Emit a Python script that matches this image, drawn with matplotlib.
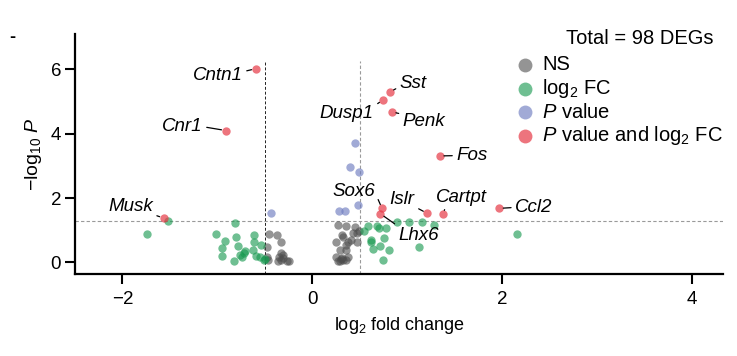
import matplotlib
matplotlib.use("Agg")
import matplotlib.pyplot as plt
from matplotlib.lines import Line2D

plt.rcParams['font.family'] = ['Liberation Sans', 'DejaVu Sans']
plt.rcParams['mathtext.fontset'] = 'custom'
plt.rcParams['mathtext.rm'] = 'Liberation Sans'
plt.rcParams['mathtext.it'] = 'Liberation Sans:italic'
plt.rcParams['mathtext.bf'] = 'Liberation Sans:bold'

# ---------------- data ----------------
ns_x = [-0.45, -0.37, -0.33, -0.48, -0.325, -0.35, -0.31, -0.27, -0.36, -0.31, -0.48, -0.47, -0.24, -0.33,
        0.27, 0.36, 0.45, 0.49, 0.43, 0.31, 0.325, 0.255, 0.38, 0.47, 0.41, 0.29, 0.36, 0.36, 0.25, 0.31,
        0.27, 0.36, 0.325, 0.29, 0.38, 0.47, 0.30]
ns_y = [0.885, 0.85, 0.62, 0.47, 0.29, 0.18, 0.13, 0.03, 0.03, 0.23, 0.18, 0.06, 0.03, 0.08,
        1.16, 1.13, 1.09, 0.99, 0.91, 0.85, 0.80, 0.62, 0.65, 0.65, 0.70, 0.39, 0.39, 0.54, 0.18, 0.13,
        0.03, 0.08, 0.08, 0.03, 0.16, 0.91, 0.10]

fc_x = [-1.52, -1.74, 2.16,
        -0.81, -1.01, -0.92, -0.80, -0.95, -0.78, -0.95, -0.61, -0.61, -0.54, -0.71, -0.765, -0.74,
        -0.82, -0.625, -0.59, -0.55, -0.51, -0.72, -0.50,
        0.59, 0.55, 0.70, 0.78, 0.89, 1.02, 1.16, 1.285, 0.62, 0.625, 0.76, 0.64, 0.72, 0.81, 0.75,
        1.13, 0.68]
fc_y = [1.29, 0.885, 0.89,
        1.24, 0.885, 0.68, 0.78, 0.44, 0.51, 0.20, 0.85, 0.65, 0.54, 0.34, 0.23, 0.16,
        0.03, 0.39, 0.20, 0.16, 0.06, 0.30, 0.10,
        1.14, 0.99, 1.08, 1.06, 1.25, 1.25, 1.27, 1.16, 0.70, 0.65, 0.77, 0.41, 0.51, 0.39, 0.06,
        0.49, 1.12]

p_x = [-0.43, 0.456, 0.40, 0.49, 0.48, 0.28, 0.35]
p_y = [1.55, 3.72, 2.98, 2.82, 1.79, 1.60, 1.61]

genes = ['Cntn1', 'Cnr1', 'Musk', 'Sst', 'Dusp1', 'Penk', 'Fos', 'Sox6', 'Lhx6', 'Islr', 'Cartpt', 'Ccl2']
both_x = [-0.596, -0.912, -1.566, 0.82, 0.745, 0.84, 1.345, 0.736, 0.72, 1.21, 1.374, 1.97]
both_y = [6.02, 4.10, 1.38, 5.30, 5.05, 4.68, 3.31, 1.68, 1.51, 1.53, 1.50, 1.68]

fc_cut = 0.5
p_cut = 1.301
total_label = 'Total = 98 DEGs'
legend_labels = ['NS', r'log$_2$ FC', r'$P$ value', r'$P$ value and log$_2$ FC']

# ---------------- style ----------------
c_ns, c_fc, c_p, c_both = '#4d4d4d', '#17994f', '#6f7dc0', '#e63946'
alphas = [0.6, 0.62, 0.65, 0.7]
W, H = 737, 356

fig = plt.figure(figsize=(W / 100, H / 100), dpi=100)
ax = fig.add_axes([75 / W, 82 / H, 648 / W, 240 / H])

ms = 36
ax.scatter(ns_x, ns_y, s=ms, color=c_ns, alpha=alphas[0], lw=0, zorder=3)
ax.scatter(fc_x, fc_y, s=ms, color=c_fc, alpha=alphas[1], lw=0, zorder=3)
ax.scatter(p_x, p_y, s=ms, color=c_p, alpha=alphas[2], lw=0, zorder=3)
ax.scatter(both_x, both_y, s=ms, color=c_both, alpha=alphas[3], lw=0, zorder=3)

ax.set_xlim(-2.5, 4.33)
ax.set_ylim(-0.36, 7.1)

dash = (0, (3, 2))
ax.vlines(-fc_cut, -0.36, 6.25, colors='#222222', linestyles=dash, lw=0.7, zorder=2)
ax.vlines(fc_cut, -0.36, 6.25, colors='#9a9a9a', linestyles=dash, lw=0.8, zorder=2)
ax.axhline(p_cut, color='#9a9a9a', ls=dash, lw=0.8, zorder=2)

# labels: (text x, text y, ha, relpos)
lab = {
    'Cntn1': (-0.733, 5.82, 'right', (1, 0.7)),
    'Cnr1': (-1.155, 4.22, 'right', (1, 0.5)),
    'Musk': (-1.68, 1.73, 'right', (1, 0.05)),
    'Sst': (0.923, 5.57, 'left', (0, 0.3)),
    'Dusp1': (0.649, 4.64, 'right', (1, 0.9)),
    'Penk': (0.955, 4.39, 'left', (0, 0.9)),
    'Fos': (1.52, 3.32, 'left', (0, 0.5)),
    'Sox6': (0.66, 2.19, 'right', (1, 0.5)),
    'Lhx6': (0.91, 0.85, 'left', (0, 1)),
    'Islr': (1.08, 1.97, 'right', (1, 0.05)),
    'Cartpt': (1.57, 2.03, 'center', (0.22, 0.05)),
    'Ccl2': (2.14, 1.71, 'left', (0, 0.5)),
}
for g, x, y in zip(genes, both_x, both_y):
    tx, ty, ha, rp = lab[g]
    ax.annotate(g, xy=(x, y), xytext=(tx, ty), ha=ha, va='center', fontsize=13.5, style='italic',
                arrowprops=dict(arrowstyle='-', color='black', lw=0.9, shrinkA=1, shrinkB=3, relpos=rp),
                zorder=4)

for s in ['top', 'right']:
    ax.spines[s].set_visible(False)
for s in ['left', 'bottom']:
    ax.spines[s].set_linewidth(1.6)
ax.set_xticks([-2, 0, 2, 4])
ax.set_yticks([0, 2, 4, 6])
ax.tick_params(axis='both', length=7, width=1.5, labelsize=13.5)
ax.tick_params(axis='x', pad=5)
ax.tick_params(axis='y', pad=3)
ax.set_xlabel(r'log$_2$ fold change', fontsize=13, labelpad=5)
ax.set_ylabel(r'$-$log$_{10}$ $P$', fontsize=14, labelpad=5)

# legend (manual)
fig.text(713 / W, 1 - 38 / H, total_label, ha='right', va='center', fontsize=14.5)
cols = [c_ns, c_fc, c_p, c_both]
for i, (lbl, c, a) in enumerate(zip(legend_labels, cols, alphas)):
    py = 65 + i * 23.5
    fig.add_artist(Line2D([525 / W], [1 - py / H], transform=fig.transFigure, marker='o', ms=10,
                          color=c, alpha=a, ls='none', mew=0))
    fig.text(542 / W, 1 - py / H, lbl, ha='left', va='center', fontsize=14.5)

fig.text(12 / W, 1 - 37 / H, '-', ha='center', va='center', fontsize=13, fontweight='bold')

fig.savefig('out.png', dpi=100)
